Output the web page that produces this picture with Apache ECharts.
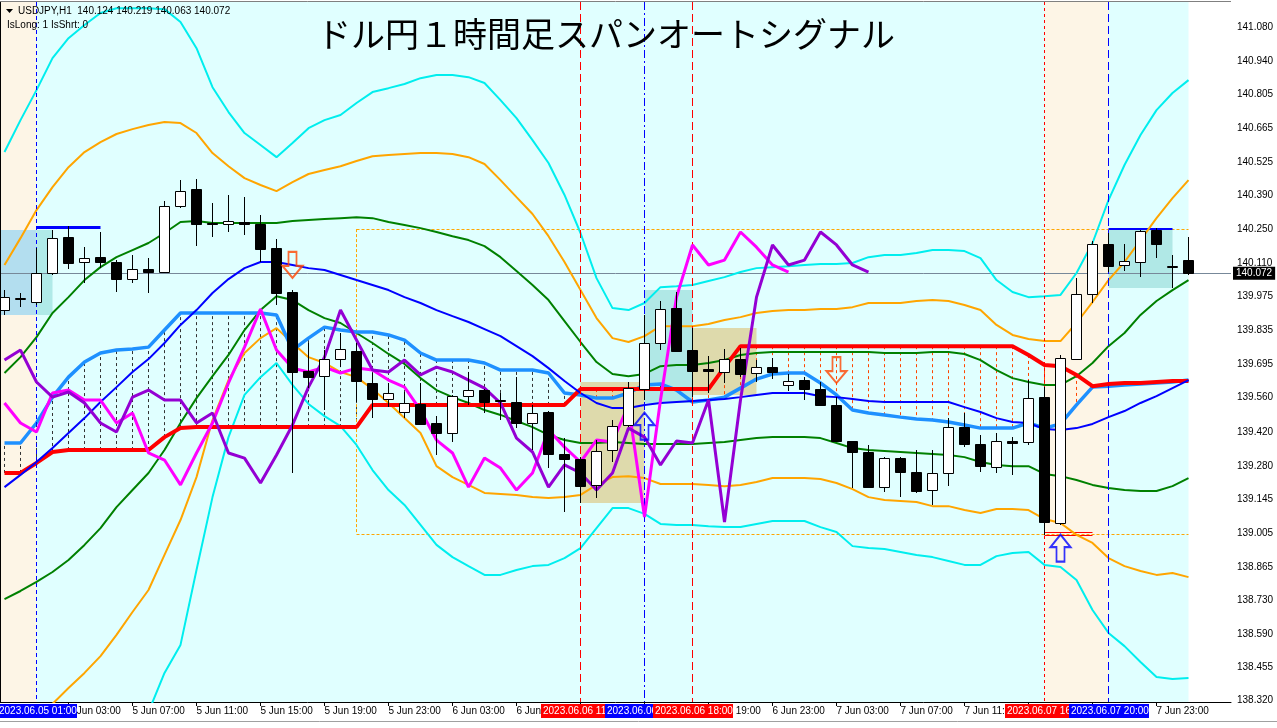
<!DOCTYPE html>
<html><head><meta charset="utf-8">
<script src="https://cdn.jsdelivr.net/npm/echarts@6/dist/echarts.min.js"></script>
<style>html,body{margin:0;padding:0;background:#fff;overflow:hidden}#c{width:1277px;height:728px}</style>
</head><body><div id="c"></div>
<script>
// ---------------- data (USDJPY H1, bar 0 = 4 Jun 23:00 ... bar 74 = 8 Jun 01:00) ----------------
const candleOpen = [139.919,139.968,139.952,140.071,140.218,140.116,140.136,140.116,140.046,140.087,
140.075,140.345,140.415,140.276,140.272,140.280,140.272,140.173,139.993,139.669,
139.648,139.718,139.751,139.620,139.554,139.501,139.534,139.456,139.415,139.566,
139.591,139.550,139.542,139.456,139.501,139.329,139.308,139.202,139.345,139.448,
139.595,139.784,139.927,139.755,139.677,139.665,139.718,139.661,139.685,139.612,
139.632,139.595,139.530,139.382,139.337,139.193,139.312,139.255,139.181,139.251,
139.439,139.370,139.275,139.382,139.378,139.562,139.046,139.718,139.985,140.190,
140.104,140.116,140.247,140.095,140.124];
const candleHigh = [140.001,139.989,140.173,140.247,140.263,140.177,140.239,140.124,140.144,140.132,
140.366,140.452,140.456,140.358,140.391,140.382,140.308,140.210,140.001,139.784,
139.755,139.825,139.784,139.661,139.620,139.583,139.620,139.484,139.570,139.665,
139.595,139.579,139.644,139.530,139.505,139.394,139.316,139.386,139.468,139.624,
139.899,139.956,139.993,139.845,139.730,139.759,139.763,139.714,139.722,139.657,
139.644,139.624,139.562,139.384,139.366,139.316,139.316,139.345,139.345,139.476,
139.497,139.407,139.415,139.398,139.632,139.603,139.735,140.050,140.202,140.235,
140.190,140.247,140.255,140.144,140.219];
const candleLow = [139.899,139.931,139.940,140.063,140.087,140.030,140.091,139.993,140.030,139.989,
140.071,140.337,140.181,140.218,140.239,140.226,140.116,139.940,139.251,139.599,
139.509,139.685,139.542,139.476,139.521,139.476,139.448,139.325,139.378,139.530,
139.497,139.468,139.435,139.345,139.271,139.091,139.128,139.148,139.296,139.439,
139.550,139.755,139.747,139.562,139.579,139.620,139.644,139.624,139.636,139.587,
139.550,139.528,139.378,139.189,139.189,139.173,139.152,139.169,139.120,139.197,
139.357,139.255,139.251,139.243,139.366,138.997,139.038,139.714,139.948,140.075,
140.079,140.054,140.132,140.009,140.063];
const candleClose = [139.972,139.970,140.071,140.214,140.112,140.132,140.116,140.046,140.087,140.075,
140.345,140.407,140.272,140.272,140.284,140.272,140.169,139.989,139.665,139.644,
139.718,139.759,139.628,139.554,139.579,139.538,139.452,139.415,139.566,139.591,
139.542,139.546,139.456,139.497,139.329,139.308,139.197,139.341,139.443,139.599,
139.784,139.923,139.751,139.669,139.669,139.718,139.657,139.685,139.665,139.628,
139.595,139.530,139.382,139.337,139.193,139.312,139.255,139.177,139.251,139.439,
139.370,139.279,139.382,139.374,139.558,139.050,139.722,139.985,140.190,140.099,
140.120,140.243,140.190,140.099,140.072];

// Bollinger bands
const bbMiddle = [139.193,139.243,139.296,139.353,139.415,139.476,139.542,139.603,139.665,139.718,
139.784,139.858,139.919,139.989,140.046,140.091,140.116,140.116,140.104,140.091,
140.083,140.063,140.042,140.022,140.001,139.972,139.948,139.919,139.894,139.870,
139.841,139.812,139.771,139.730,139.681,139.628,139.579,139.538,139.517,139.517,
139.530,139.538,139.542,139.546,139.550,139.554,139.562,139.571,139.579,139.579,
139.579,139.566,139.562,139.554,139.546,139.542,139.542,139.542,139.542,139.542,
139.521,139.501,139.476,139.460,139.456,139.431,139.427,139.435,139.452,139.480,
139.505,139.538,139.566,139.599,139.632];
const bbUpper1 = [139.661,139.726,139.808,139.907,139.972,140.042,140.095,140.136,140.165,140.194,
140.235,140.280,140.284,140.276,140.276,140.276,140.276,140.276,140.284,140.288,
140.292,140.296,140.300,140.296,140.280,140.268,140.255,140.239,140.222,140.206,
140.181,140.136,140.079,140.022,139.960,139.874,139.788,139.706,139.657,139.648,
139.657,139.689,139.694,139.694,139.702,139.714,139.735,139.743,139.747,139.747,
139.747,139.747,139.747,139.747,139.747,139.743,139.743,139.743,139.747,139.747,
139.739,139.714,139.673,139.640,139.624,139.612,139.612,139.648,139.702,139.771,
139.825,139.899,139.956,140.001,140.042];
const bbLower1 = [138.734,138.767,138.804,138.845,138.894,138.956,139.025,139.111,139.181,139.251,
139.345,139.456,139.558,139.648,139.735,139.837,139.919,139.976,139.960,139.919,
139.886,139.866,139.825,139.784,139.739,139.698,139.640,139.591,139.562,139.538,
139.509,139.489,139.464,139.439,139.407,139.386,139.374,139.374,139.378,139.374,
139.370,139.370,139.370,139.370,139.374,139.378,139.386,139.394,139.398,139.398,
139.398,139.394,139.374,139.353,139.345,139.341,139.337,139.333,139.329,139.325,
139.316,139.296,139.284,139.279,139.279,139.247,139.238,139.222,139.202,139.189,
139.181,139.177,139.177,139.197,139.230];
const bbUpper2 = [140.104,140.214,140.329,140.423,140.505,140.567,140.608,140.641,140.661,140.678,
140.690,140.686,140.645,140.563,140.509,140.460,140.432,140.407,140.444,140.477,
140.493,140.509,140.530,140.550,140.555,140.559,140.563,140.563,140.559,140.546,
140.518,140.452,140.382,140.313,140.222,140.116,140.001,139.886,139.804,139.788,
139.812,139.853,139.853,139.853,139.862,139.878,139.890,139.907,139.915,139.919,
139.919,139.923,139.923,139.931,139.948,139.948,139.948,139.956,139.960,139.956,
139.940,139.919,139.858,139.817,139.800,139.792,139.792,139.866,139.952,140.042,
140.116,140.206,140.296,140.378,140.452];
const bbLower2 = [138.283,138.271,138.263,138.304,138.369,138.431,138.500,138.587,138.681,138.771,
138.915,139.058,139.234,139.468,139.632,139.743,139.804,139.845,139.784,139.726,
139.702,139.665,139.644,139.595,139.538,139.476,139.415,139.279,139.234,139.202,
139.169,139.165,139.161,139.152,139.148,139.152,139.161,139.202,139.234,139.238,
139.230,139.206,139.206,139.206,139.202,139.197,139.202,139.214,139.230,139.230,
139.230,139.226,139.210,139.185,139.152,139.140,139.136,139.132,139.115,139.115,
139.099,139.087,139.103,139.103,139.099,139.062,139.046,138.997,138.964,138.902,
138.869,138.849,138.833,138.841,138.824];
const bbUpper3 = [140.567,140.698,140.821,140.952,141.034,141.088,141.137,141.157,141.157,141.157,
141.153,141.100,140.993,140.833,140.731,140.645,140.596,140.546,140.604,140.665,
140.698,140.719,140.768,140.813,140.829,140.846,140.870,140.883,140.883,140.874,
140.850,140.780,140.706,140.616,140.522,140.391,140.235,140.050,139.927,139.919,
139.948,140.013,140.017,140.022,140.038,140.054,140.075,140.091,140.095,140.099,
140.104,140.108,140.108,140.112,140.136,140.145,140.145,140.153,140.165,140.165,
140.161,140.132,140.042,139.993,139.972,139.976,139.981,140.071,140.194,140.370,
140.514,140.637,140.739,140.809,140.862];
const bbLower3 = [137.820,137.787,137.771,137.754,137.795,137.865,137.947,138.049,138.172,138.271,
138.431,138.546,138.853,139.152,139.398,139.571,139.644,139.702,139.612,139.534,
139.484,139.443,139.366,139.263,139.181,139.120,139.038,138.956,138.906,138.869,
138.833,138.833,138.853,138.869,138.874,138.902,138.943,139.025,139.107,139.107,
139.083,139.042,139.038,139.038,139.033,139.029,139.029,139.042,139.054,139.054,
139.054,139.029,139.009,138.951,138.943,138.939,138.927,138.915,138.906,138.890,
138.874,138.874,138.910,138.923,138.927,138.874,138.865,138.812,138.689,138.595,
138.541,138.476,138.414,138.406,138.410];

// Ichimoku-style cloud lines
const spanRed = [139.251,139.251,139.292,139.337,139.345,139.345,139.345,139.345,139.345,139.345,
139.398,139.435,139.439,139.439,139.439,139.439,139.439,139.439,139.439,139.439,
139.439,139.439,139.439,139.530,139.530,139.530,139.530,139.530,139.530,139.530,
139.530,139.530,139.530,139.530,139.530,139.530,139.595,139.595,139.595,139.595,
139.595,139.595,139.595,139.595,139.595,139.685,139.771,139.771,139.771,139.771,
139.771,139.771,139.771,139.771,139.771,139.771,139.771,139.771,139.771,139.771,
139.771,139.771,139.771,139.771,139.735,139.694,139.689,139.653,139.607,139.616,
139.620,139.620,139.624,139.628,139.628];
const spanBlue = [139.374,139.374,139.456,139.562,139.644,139.706,139.743,139.755,139.759,139.767,
139.837,139.907,139.907,139.907,139.907,139.907,139.907,139.899,139.755,139.804,
139.849,139.837,139.829,139.829,139.817,139.796,139.743,139.714,139.714,139.714,
139.702,139.673,139.673,139.673,139.661,139.579,139.571,139.558,139.558,139.579,
139.612,139.616,139.591,139.542,139.550,139.562,139.599,139.636,139.657,139.661,
139.661,139.620,139.571,139.509,139.497,139.489,139.480,139.472,139.468,139.460,
139.448,139.435,139.435,139.435,139.456,139.435,139.452,139.530,139.603,139.607,
139.612,139.616,139.620,139.624,139.632];
const magentaLine = [139.538,139.456,139.419,139.579,139.591,139.550,139.550,139.456,139.497,139.333,
139.304,139.202,139.333,139.456,139.620,139.767,139.923,139.755,139.681,139.665,
139.685,139.661,139.681,139.673,139.632,139.603,139.509,139.386,139.333,139.193,
139.312,139.271,139.181,139.251,139.427,139.357,139.296,139.386,139.378,139.530,
139.070,139.550,139.972,140.186,140.104,140.124,140.239,140.177,140.104,140.075];
const violetLine = [139.714,139.755,139.624,139.562,139.583,139.538,139.456,139.419,139.562,139.591,
139.550,139.550,139.456,139.497,139.333,139.312,139.210,139.325,139.448,139.603,
139.726,139.919,139.796,139.673,139.665,139.714,139.653,139.685,139.665,139.632,
139.599,139.538,139.394,139.337,139.193,139.284,139.251,139.181,139.251,139.435,
139.398,139.284,139.382,139.374,139.550,139.050,139.550,139.972,140.186,140.104,
140.124,140.239,140.186,140.104,140.075];

// axis ticks
const yTickValues = [141.080,140.940,140.805,140.665,140.525,140.390,140.250,140.110,139.975,139.835,
139.695,139.560,139.420,139.280,139.145,139.005,138.865,138.730,138.590,138.455,138.320];
const xTickBars = [4,8,12,16,20,24,28,32,36,40,44,48,52,56,60,64,68,72];
const xTickTexts = ['5 Jun 03:00','5 Jun 07:00','5 Jun 11:00','5 Jun 15:00','5 Jun 19:00','5 Jun 23:00',
'6 Jun 03:00','6 Jun 07:00','6 Jun 11:00','6 Jun 15:00','6 Jun 19:00','6 Jun 23:00',
'7 Jun 03:00','7 Jun 07:00','7 Jun 11:00','7 Jun 15:00','7 Jun 19:00','7 Jun 23:00'];
// highlighted time stamps on the time axis
const markBars = [36,40,43,65,69,2];
const markTexts = ['2023.06.06 11:00','2023.06.06 15:00','2023.06.06 18:00','2023.06.07 16:00','2023.06.07 20:00','2023.06.05 01:00'];
const markIsBuy = [false,true,false,false,true,true];
// signals
const sellArrowBars = [18,52];
const sellArrowPrices = [140.104,139.673];
const buyArrowBars = [40,66];
const buyArrowPrices = [139.443,138.943];
// zones / boxes (bars, prices)
const longZoneFrom = [null,65];   // null = left edge
const longZoneTo = [2,69];
const boxFrom = [null,2,36,40,43,69];
const boxTo = [2,3,40,43,47,73];
const boxHigh = [140.247,140.247,139.624,140.001,139.845,140.251];
const boxLow = [139.899,139.899,139.128,139.538,139.571,140.009];
const rangeFromBar = 22, rangeToBar = 74, rangeHigh = 140.251, rangeLow = 139.001;
const highLineLeft = [2,6,140.259];
const highLineRight = [69,73,140.251];
const lowMark = [65,68,139.007,138.994];
const lastBar = 74, lastPrice = 140.072;
const headerText = 'USDJPY,H1  140.124 140.219 140.063 140.072';
const subText = 'IsLong: 1 IsShrt: 0';
const titleText = 'ドル円１時間足スパンオートシグナル';

// ---------------- layout ----------------
const X_MIN = -0.28125, X_MAX = -0.28125 + 1231 / 16;
const Y_MIN = 138.3118, Y_MAX = 141.1823;
const SMALL = '10px "Liberation Sans", Arial, sans-serif';

const idx = arr => arr.map((v, i) => [i, v]);
function lineSeries(arr, color, width, z) {
  return {type: 'line', data: idx(arr), showSymbol: false, symbol: 'none', z: z,
    lineStyle: {color: color, width: width}, itemStyle: {color: color}, silent: true, animation: false};
}
function rectSeries(items, colors, z) {
  return {type: 'custom', z: z, silent: true, clip: true, animation: false,
    data: items, encode: {x: [0, 1], y: [2, 3]},
    renderItem: function (params, api) {
      const p1 = api.coord([api.value(0), api.value(2)]);
      const p2 = api.coord([api.value(1), api.value(3)]);
      return {type: 'rect', shape: {x: p1[0], y: p1[1], width: p2[0] - p1[0], height: p2[1] - p1[1]},
        style: {fill: colors[params.dataIndex]}};
    }};
}
// a series that only carries mark lines (segments in data coordinates)
function markLineSeries(segments, z) {
  return {type: 'line', data: [], z: z, silent: true, animation: false,
    markLine: {z: z, silent: true, symbol: 'none', animation: false, precision: 6,
      label: {show: false}, emphasis: {disabled: true},
      data: segments}};
}
function seg(x1, y1, x2, y2, color, width, dash) {
  return [{coord: [x1, y1], lineStyle: {color: color, width: width, type: dash || 'solid', opacity: 1}},
          {coord: [x2, y2]}];
}

const bgItems = [[X_MIN, lastBar, Y_MAX, Y_MIN]];
const zoneItems = longZoneFrom.map((f, i) => [f === null ? X_MIN : f, longZoneTo[i], Y_MAX, Y_MIN]);
const boxItems = boxFrom.map((f, i) => [f === null ? X_MIN : f, boxTo[i], boxHigh[i], boxLow[i]]);
const boxColors = ['#B3DEEF', '#B0EAE8', '#DEDAAC', '#B0E8E6', '#DEDAAC', '#B0E8E6'];

// cloud hatching between the two span lines
const hatchSegs = spanRed.map((r, i) =>
  seg(i, r, i, spanBlue[i], spanBlue[i] > r ? '#333333' : '#FF4500', 1, [3, 3]));

const vColors = ['#FF0000', '#0000FF', '#FF0000', '#FF0000', '#0000FF', '#0000FF'];
const vDash = [[8, 4], [8, 3, 2, 3], [8, 4], [3, 3], [8, 4], [4, 3]];
const vSegs = markBars.map((b, k) => seg(b, Y_MAX, b, Y_MIN, vColors[k], 1, vDash[k]));

const objSegs = [
  seg(rangeFromBar, rangeHigh, rangeToBar, rangeHigh, '#FFA500', 1, [3, 2]),
  seg(rangeFromBar, rangeLow, rangeToBar, rangeLow, '#FFA500', 1, [3, 2]),
  seg(rangeFromBar, rangeHigh, rangeFromBar, rangeLow, '#FFA500', 1, [3, 2]),
  seg(highLineLeft[0], highLineLeft[2], highLineLeft[1], highLineLeft[2], '#0000FF', 3),
  seg(highLineRight[0], highLineRight[2], highLineRight[1], highLineRight[2], '#0000FF', 2),
  seg(lowMark[0], lowMark[2], lowMark[1], lowMark[2], '#FF0000', 1),
  seg(lowMark[0], lowMark[3], lowMark[1], lowMark[3], '#FF0000', 1)];

const candleSeries = {
  type: 'custom', z: 7, silent: true, clip: true, animation: false,
  data: candleOpen.map((o, i) => [i, o, candleHigh[i], candleLow[i], candleClose[i]]),
  encode: {x: 0, y: [1, 2, 3, 4]},
  renderItem: function (params, api) {
    const i = api.value(0), o = api.value(1), h = api.value(2), l = api.value(3), c = api.value(4);
    const po = api.coord([i, o]), pc = api.coord([i, c]), ph = api.coord([i, h]), pl = api.coord([i, l]);
    const cx = Math.floor(po[0]) + 0.5;
    let top = Math.round(Math.min(po[1], pc[1])) + 0.5;
    let bot = Math.round(Math.max(po[1], pc[1])) + 0.5;
    if (bot - top < 1) bot = top + 1;
    return {type: 'group', children: [
      {type: 'line', shape: {x1: cx, y1: Math.round(ph[1]), x2: cx, y2: Math.round(pl[1])}, style: {stroke: '#000', lineWidth: 1}},
      {type: 'rect', shape: {x: cx - 5, y: top, width: 10, height: bot - top},
        style: {fill: c >= o ? '#FFFFFF' : '#000000', stroke: '#000', lineWidth: 1}}]};
  }};

const downPath = 'path://M6,0L14,0L14,14L20,14L10,26L0,14L6,14Z';
const upPath = 'path://M10,0L20,12L14,12L14,26L6,26L6,12L0,12Z';

const middleWithPrice = lineSeries(bbMiddle, '#0000FF', 2, 5);
middleWithPrice.markLine = {
  silent: true, symbol: 'none', animation: false,
  lineStyle: {color: '#778899', type: 'solid', width: 1},
  data: [{yAxis: lastPrice}],
  label: {show: true, position: 'end', distance: 2, formatter: () => lastPrice.toFixed(3),
    backgroundColor: '#000', color: '#fff', padding: [2, 3, 1, 3], fontSize: 10, fontFamily: 'Liberation Sans'}
};

const xLabelMap = {};
xTickBars.forEach((b, i) => { xLabelMap[b] = xTickTexts[i]; });

const baseGraphic = [
  {type: 'polygon', shape: {points: [[6, 9], [13, 9], [9.5, 13]]}, style: {fill: '#000'}, z: 50},
  {type: 'text', x: 18, y: 11, style: {text: headerText, font: SMALL, fill: '#000', textVerticalAlign: 'middle'}, z: 50},
  {type: 'text', x: 7, y: 25, style: {text: subText, font: SMALL, fill: '#000', textVerticalAlign: 'middle'}, z: 50},
  {type: 'text', x: 317, y: 34, style: {text: titleText, font: '34px "Noto Sans CJK JP", sans-serif', fill: '#000', textVerticalAlign: 'middle'}, z: 50},
  {type: 'line', shape: {x1: 0.5, y1: 2, x2: 0.5, y2: 702}, style: {stroke: '#000', lineWidth: 1}, z: 50},
  {type: 'line', shape: {x1: 0, y1: 1.5, x2: 1231, y2: 1.5}, style: {stroke: '#808080', lineWidth: 1}, z: 50},
  {type: 'line', shape: {x1: 0, y1: 721.5, x2: 1277, y2: 721.5}, style: {stroke: '#A0A0A0', lineWidth: 1}, z: 50}
];

const option = {
  animation: false,
  backgroundColor: '#FFFFFF',
  grid: {left: 0, right: 46, top: 2, bottom: 26, show: false, containLabel: false, outerBoundsMode: 'none'},
  xAxis: {type: 'value', min: X_MIN, max: X_MAX, splitLine: {show: false},
    axisLine: {show: true, onZero: false, lineStyle: {color: '#000', width: 1}},
    axisTick: {show: true, customValues: xTickBars, length: 4, lineStyle: {color: '#000'}},
    axisLabel: {show: true, customValues: xTickBars, formatter: v => xLabelMap[Math.round(v)] || '',
      align: 'left', margin: 4, fontSize: 10, fontFamily: 'Liberation Sans', color: '#000'}},
  yAxis: {type: 'value', position: 'right', min: Y_MIN, max: Y_MAX, scale: true, splitLine: {show: false},
    axisLine: {show: true, lineStyle: {color: '#000', width: 1}},
    axisTick: {show: true, customValues: yTickValues, length: 4, lineStyle: {color: '#000'}},
    axisLabel: {show: true, customValues: yTickValues, formatter: v => v.toFixed(3), margin: 6,
      fontSize: 10, fontFamily: 'Liberation Sans', color: '#000'}},
  graphic: baseGraphic,
  series: [
    rectSeries(bgItems, ['#E0FFFF'], 1),
    rectSeries(zoneItems, ['#FDF5E6', '#FDF5E6'], 2),
    rectSeries(boxItems, boxColors, 3),
    markLineSeries(hatchSegs, 4),
    markLineSeries(objSegs, 4),
    lineSeries(bbUpper3, '#00EEEE', 2, 5),
    lineSeries(bbLower3, '#00EEEE', 2, 5),
    lineSeries(bbUpper2, '#FFA500', 2, 5),
    lineSeries(bbLower2, '#FFA500', 2, 5),
    lineSeries(bbUpper1, '#008000', 2, 5),
    lineSeries(bbLower1, '#008000', 2, 5),
    lineSeries(spanBlue, '#1E90FF', 3.5, 5),
    lineSeries(spanRed, '#FF0000', 4, 5),
    middleWithPrice,
    lineSeries(magentaLine, '#FF00FF', 3, 6),
    lineSeries(violetLine, '#9400D3', 3, 6),
    markLineSeries(vSegs, 6),
    candleSeries,
    {type: 'scatter', z: 8, silent: true, animation: false, data: sellArrowBars.map((b, i) => [b, sellArrowPrices[i]]),
      symbol: downPath, symbolSize: [20, 26], itemStyle: {color: 'rgba(255,255,255,0)', borderColor: '#FF4500', borderWidth: 2}},
    {type: 'scatter', z: 8, silent: true, animation: false, data: buyArrowBars.map((b, i) => [b, buyArrowPrices[i]]),
      symbol: upPath, symbolSize: [20, 27], itemStyle: {color: 'rgba(255,255,255,0)', borderColor: '#0000FF', borderWidth: 2}}
  ]
};

const chart = echarts.init(document.getElementById('c'), null, {renderer: 'canvas'});
chart.setOption(option);

const markGraphic = [];
markBars.forEach((b, k) => {
  const px = Math.round(chart.convertToPixel({xAxisIndex: 0}, b));
  markGraphic.push({type: 'rect', shape: {x: px - 40, y: 704, width: 80, height: 14},
    style: {fill: markIsBuy[k] ? '#0000FF' : '#FF0000'}, z: 60 + k * 2});
  markGraphic.push({type: 'text', x: px - 38, y: 711.5,
    style: {text: markTexts[k], font: SMALL, fill: '#FFFFFF', textVerticalAlign: 'middle'}, z: 61 + k * 2});
});
chart.setOption({graphic: baseGraphic.concat(markGraphic)});
</script>
</body></html>
